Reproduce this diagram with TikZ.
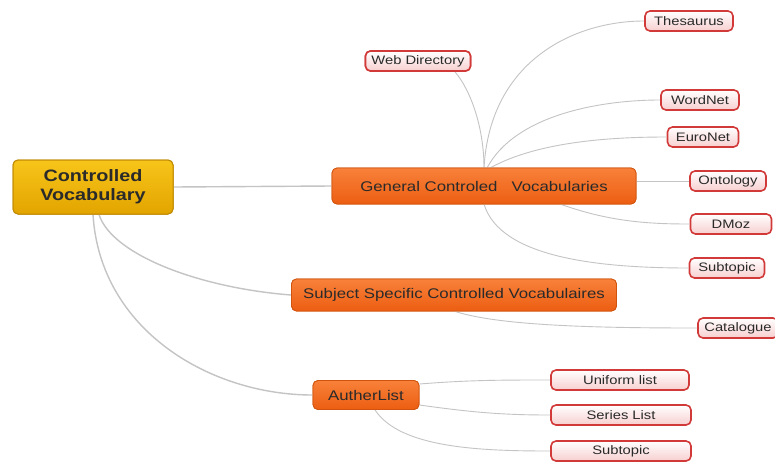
\documentclass[tikz,border=0pt]{standalone}
\usepackage{fontspec}
\setmainfont{Liberation Sans}[FakeStretch=1.2]
\definecolor{goldA}{HTML}{F7C51A}
\definecolor{goldB}{HTML}{E3A400}
\definecolor{goldD}{HTML}{C08A00}
\definecolor{orA}{HTML}{F8813A}
\definecolor{orB}{HTML}{EC5E12}
\definecolor{orD}{HTML}{D0540E}
\definecolor{leafB}{HTML}{F7CFCF}
\definecolor{leafD}{HTML}{D23A3A}
\definecolor{linkgray}{HTML}{C4C4C4}
\definecolor{txt}{HTML}{2A2A2A}
\begin{document}
\begin{tikzpicture}[x=1pt,y=-1pt,
  root/.style={draw=goldD, line width=1pt, rounded corners=5pt, top color=goldA, bottom color=goldB,
    minimum width=160pt, minimum height=54pt, align=center, inner sep=0pt,
    font=\fontsize{16.5}{19}\selectfont\bfseries, text=txt},
  mainbox/.style={draw=orD, line width=0.8pt, rounded corners=5pt, top color=orA, bottom color=orB,
    inner sep=0pt, font=\fontsize{14}{16}\selectfont, text=txt},
  leaf/.style={draw=leafD, line width=1.6pt, rounded corners=5pt, top color=white, bottom color=leafB,
    minimum height=20pt, inner sep=0pt, font=\fontsize{12.3}{14}\selectfont, text=txt},
  link/.style={draw=linkgray, line width=0.9pt},
  thick link/.style={draw=linkgray, line width=1.4pt}]
\useasboundingbox (0,0) rectangle (775,461);
\fill[white] (0,0) rectangle (775,461);

\coordinate (gtop) at (484,168);
\coordinate (gbot) at (484,204);

% nodes
\node[root] (root) at (93,187) {Controlled\\Vocabulary};
\node[mainbox, minimum width=304pt, minimum height=36pt] (gen) at (484,186) {General Controled~~~Vocabularies};
\node[mainbox, minimum width=325pt, minimum height=32pt] (subj) at (454,295) {Subject Specific Controlled Vocabulaires};
\node[mainbox, minimum width=106pt, minimum height=29pt] (auth) at (366,395) {AutherList};

\node[leaf, minimum width=105pt] (web) at (418,61) {Web Directory};
\node[leaf, minimum width=88pt] (thes) at (689,21) {Thesaurus};
\node[leaf, minimum width=78pt] (wordnet) at (700,100) {WordNet};
\node[leaf, minimum width=71pt] (euro) at (703,137) {EuroNet};
\node[leaf, minimum width=76pt] (onto) at (728,181) {Ontology};
\node[leaf, minimum width=81pt] (dmoz) at (731,224) {DMoz};
\node[leaf, minimum width=75pt] (subA) at (727,268) {Subtopic};
\node[leaf, minimum width=80pt] (cat) at (738,328) {Catalogue};
\node[leaf, minimum width=138pt] (uni) at (620,380) {Uniform list};
\node[leaf, minimum width=140pt] (series) at (621,415) {Series List};
\node[leaf, minimum width=140pt] (subB) at (621,451) {Subtopic};

% connectors
\draw[thick link] (root.east) -- (gen.west);
\draw[thick link] ([xshift=6pt]root.south) .. controls (112,255) and (200,288) .. (subj.west);
\draw[thick link] ([xshift=0pt]root.south) .. controls (100,330) and (210,395) .. (auth.west);

\draw[link] ([xshift=37pt]web.south) .. controls (472,92) and (484,130) .. (gtop);
\draw[link] (gtop) .. controls (490,60) and (575,21) .. (thes.west);
\draw[link] ([xshift=3pt]gtop) .. controls (515,115) and (600,100) .. (wordnet.west);
\draw[link] ([xshift=6pt]gtop) .. controls (540,140) and (620,137) .. (euro.west);
\draw[link] (gen.east |- onto.west) -- (onto.west);
\draw[link] ([xshift=76pt]gbot) .. controls (610,222) and (650,224) .. (dmoz.west);
\draw[link] (gbot) .. controls (500,258) and (600,268) .. (subA.west);

\draw[link] ([xshift=1pt]subj.south) .. controls (500,326) and (600,328) .. (cat.west);

\draw[link] ([yshift=11pt]auth.east) .. controls (470,380) and (500,380) .. (uni.west);
\draw[link] ([yshift=-10pt]auth.east) .. controls (470,412) and (500,415) .. (series.west);
\draw[link] ([xshift=9pt]auth.south) .. controls (400,448) and (480,451) .. (subB.west);

% redraw nodes on top of the connectors
\node[root] at (root) {Controlled\\Vocabulary};
\node[mainbox, minimum width=304pt, minimum height=36pt] at (gen) {General Controled~~~Vocabularies};
\node[mainbox, minimum width=325pt, minimum height=32pt] at (subj) {Subject Specific Controlled Vocabulaires};
\node[mainbox, minimum width=106pt, minimum height=29pt] at (auth) {AutherList};
\node[leaf, minimum width=105pt] at (web) {Web Directory};
\end{tikzpicture}
\end{document}
